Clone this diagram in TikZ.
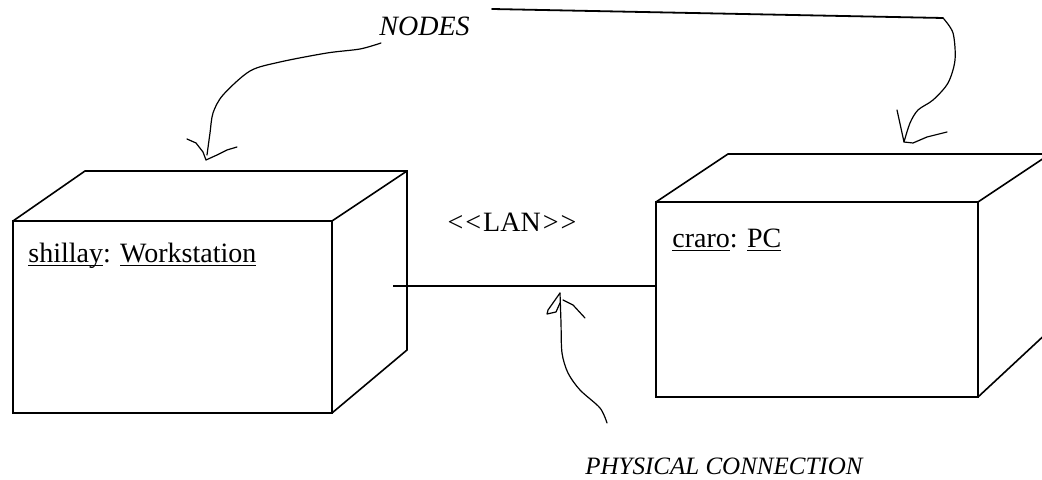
\documentclass[tikz,border=0pt]{standalone}
\usepackage{fontspec}
\setmainfont{Liberation Serif}
\usepackage{tikz}
\usetikzlibrary{calc}
\newcommand{\uln}[1]{\underline{\smash{#1}}}
\newcommand{\lt}{\mbox{<}\kern1pt}
\newcommand{\gt}{\kern1pt\mbox{>}}
\tikzset{
  boxedge/.style={line width=0.8pt, line join=miter},
  sketch/.style={line width=0.6pt, line join=round, line cap=round},
  lbl/.style={inner sep=0pt, font=\fontsize{14}{17}\selectfont},
  note/.style={inner sep=0pt, font=\fontsize{14}{17}\selectfont\itshape},
}

\begin{document}
\begin{tikzpicture}[x=0.5pt,y=-0.5pt]
      \useasboundingbox (0,0) rectangle (1042,480);
      \clip (0,0) rectangle (1042,480);

      % Workstation node: front face and depth
      \coordinate (wsNW) at (13,221);
      \coordinate (wsNE) at (332,221);
      \coordinate (wsSE) at (332,413);
      \coordinate (wsBW) at (85,171);
      \coordinate (wsBE) at (407,171);
      \coordinate (wsBS) at (407,350);
      \draw[boxedge] (13,413) rectangle (wsNE);
      \draw[boxedge] (wsNW) -- (wsBW) -- (wsBE) -- (wsBS) -- (wsSE);
      \draw[boxedge] (wsNE) -- (wsBE);

      % PC node: front face and depth (runs off the right edge)
      \coordinate (pcNW) at (656,202);
      \coordinate (pcNE) at (978,202);
      \coordinate (pcSE) at (978,397);
      \coordinate (pcBW) at (728,154);
      \coordinate (pcBE) at (1050,154);
      \coordinate (pcBS) at (1050,330);
      \draw[boxedge] (656,397) rectangle (pcNE);
      \draw[boxedge] (pcNW) -- (pcBW) -- (pcBE) -- (pcBS) -- (pcSE);
      \draw[boxedge] (pcNE) -- (pcBE);

      % Labels inside the nodes
      \node[lbl, anchor=base west] (wslbl) at (28,263) {\uln{shillay}: \uln{Workstation}};
      \node[lbl, anchor=base west] (pclbl) at (672,248) {\uln{craro}: \uln{PC}};

      % LAN link
      \coordinate (lanL) at (393,286);
      \coordinate (lanR) at (656,286);
      \draw[boxedge] (lanL) -- (lanR);
      \node[lbl] (lanlbl) at (512,222) {\lt\lt LAN\gt\gt};

      % Hand-drawn note: NODES
      \node[note, anchor=base west] (nodesnote) at (379,36) {NODES};
      \draw[sketch] plot[smooth] coordinates {(381,43) (360,49) (327,53) (280,62)
        (250,71) (223,95) (213,113) (210,133) (207,155)};
      \draw[sketch] (187,139) -- (196,143) -- (203,152) -- (206,160) -- (217,155)
        -- (227,150) -- (237,147);
      \draw[sketch, line width=0.9pt] (492,9) -- (943,18);
      \draw[sketch] plot[smooth] coordinates {(943,18) (953,33) (955,60) (948,83)
        (933,100) (918,110) (910,123) (904,142)};
      \draw[sketch] (897,110) -- (904,142) -- (913,143) -- (927,137) -- (947,132);

      % Hand-drawn note: PHYSICAL CONNECTION
      \node[note, anchor=base west, font=\fontsize{12.5}{15}\selectfont\itshape]
        (physnote) at (585,474) {PHYSICAL CONNECTION};
      \draw[sketch] plot[smooth] coordinates {(607,423) (600,408) (580,390)
        (568,373) (562,353) (561,323) (560,293)};
      \draw[sketch] (560,293) -- (548,310) -- (547,314) -- (556,312) -- (560,303);
      \draw[sketch] (563,300) -- (573,305) -- (585,318);
    \end{tikzpicture}
\end{document}
